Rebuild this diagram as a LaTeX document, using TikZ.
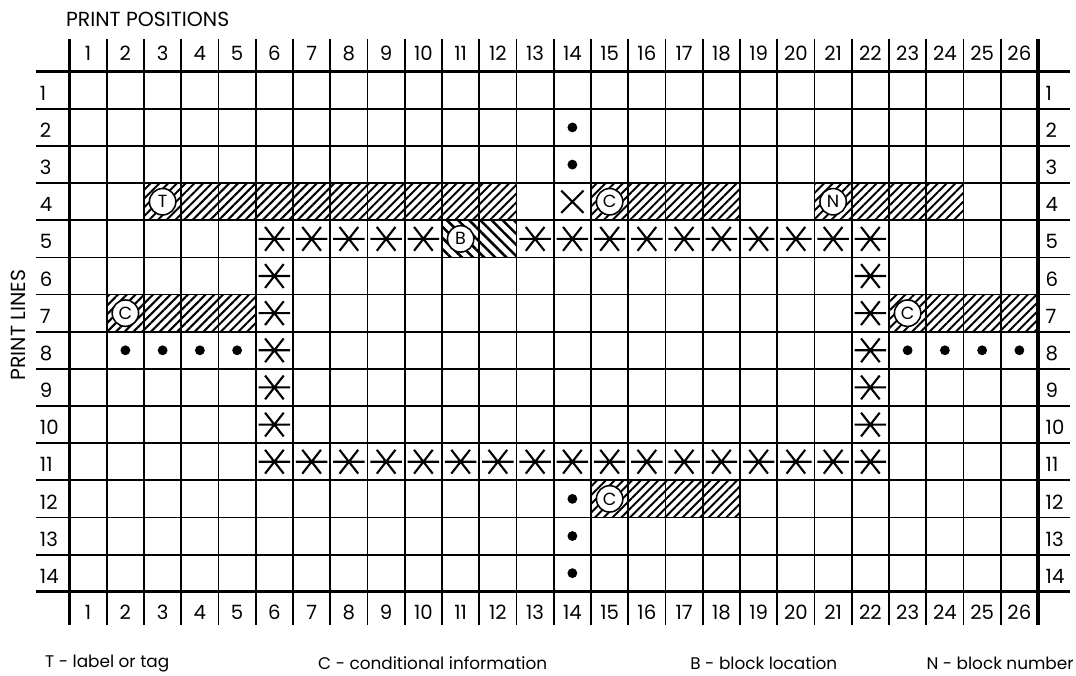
\documentclass[tikz,border=0pt]{standalone}
\usepackage{fontspec}
\setmainfont{Poppins}
\usetikzlibrary{patterns.meta}

\tikzset{
  gridline/.style={line width=1.3pt},
  frameline/.style={line width=2.4pt},
  hatch/.style={pattern={Lines[angle=45,distance=4.4pt,line width=1.4pt]}},
  blockhatch/.style={pattern={Lines[angle=-45,distance=5.6pt,line width=1.8pt]}},
  lettercircle/.style={circle, draw, line width=1.1pt, fill=white, minimum size=0.66cm, inner sep=0pt, font=\fontsize{12.5}{13}\selectfont},
  numlabel/.style={inner sep=0pt, font=\fontsize{14}{16}\selectfont},
  headlabel/.style={inner sep=0pt, font=\fontsize{14}{16}\selectfont},
  legend/.style={anchor=west, inner sep=0pt, font=\fontsize{12}{14}\selectfont},
  markline/.style={line width=1.5pt},
  printdot/.style={circle, fill, inner sep=0pt, minimum size=7pt}
}

% barred cross in cell (col,row)
\newcommand{\barcross}[2]{%
  \draw[markline] (#1-0.75,#2-0.82) -- (#1-0.25,#2-0.18)
                  (#1-0.75,#2-0.18) -- (#1-0.25,#2-0.82)
                  (#1-0.92,#2-0.5) -- (#1-0.08,#2-0.5);}

\begin{document}
\begin{tikzpicture}[x=0.93125cm, y=-0.92857cm]
\useasboundingbox (-1.866,-1.931) rectangle (27.02,16.244);

% shaded fields
\fill[hatch] (2,3) rectangle (12,4);
\fill[hatch] (14,3) rectangle (18,4);
\fill[hatch] (20,3) rectangle (24,4);
\fill[hatch] (1,6) rectangle (5,7);
\fill[hatch] (22,6) rectangle (26,7);
\fill[hatch] (14,11) rectangle (18,12);
\fill[blockhatch] (10,4) rectangle (12,5);

% grid
\foreach \j in {1,...,13}
  \draw[gridline] (-0.9,\j) -- (26.86,\j);
\foreach \i in {1,...,25}
  \draw[gridline] (\i,-0.88) -- (\i,14.9);
\draw[frameline] (-0.9,0) -- (26.86,0);
\draw[frameline] (-0.9,14) -- (26.86,14);
\draw[frameline] (0,-0.88) -- (0,14.9);
\draw[frameline] (26,-0.88) -- (26,14.9);

% position numbers
\foreach \i in {1,...,26} {
  \node[headlabel] (top-\i) at (\i-0.5,-0.5) {\i};
  \node[headlabel] (bot-\i) at (\i-0.5,14.55) {\i};
}
% line numbers
\foreach \j in {1,...,14} {
  \node[numlabel, anchor=west] (left-\j) at (-0.8,\j-0.42) {\j};
  \node[numlabel, anchor=west] (right-\j) at (26.2,\j-0.42) {\j};
}

\node[legend, font=\fontsize{14.5}{16}\selectfont] (positions) at (-0.1,-1.42) {PRINT POSITIONS};
\node[inner sep=0pt, rotate=90, font=\fontsize{14.5}{16}\selectfont] (lines) at (-1.36,6.82) {PRINT LINES};

% crosses
\foreach \i in {6,...,10,13,14,...,22}
  \barcross{\i}{5};
\foreach \j in {6,...,10} {
  \barcross{6}{\j}
  \barcross{22}{\j}
}
\foreach \i in {6,...,22}
  \barcross{\i}{11};
\draw[markline] (13.2,3.2) -- (13.8,3.8) (13.2,3.8) -- (13.8,3.2);

% dots
\foreach \i in {2,...,5,23,24,25,26}
  \node[printdot] (dot-\i) at (\i-0.5,7.5) {};
\foreach \j in {2,3,12,13,14}
  \node[printdot] (col14-\j) at (13.5,\j-0.5) {};

% lettered circles
\node[lettercircle] (tag) at (2.5,3.5) {T};
\node[lettercircle] (cond-a) at (14.5,3.5) {C};
\node[lettercircle] (num) at (20.5,3.5) {N};
\node[lettercircle] (block) at (10.5,4.5) {B};
\node[lettercircle] (cond-b) at (1.5,6.5) {C};
\node[lettercircle] (cond-c) at (22.5,6.5) {C};
\node[lettercircle] (cond-d) at (14.5,11.5) {C};

% key
\node[legend] (key-t) at (-0.66,15.92) {T - label or tag};
\node[legend] (key-c) at (6.67,15.92) {C - conditional information};
\node[legend] (key-b) at (16.66,15.92) {B - block location};
\node[legend] (key-n) at (23.0,15.92) {N - block number};
\end{tikzpicture}
\end{document}
